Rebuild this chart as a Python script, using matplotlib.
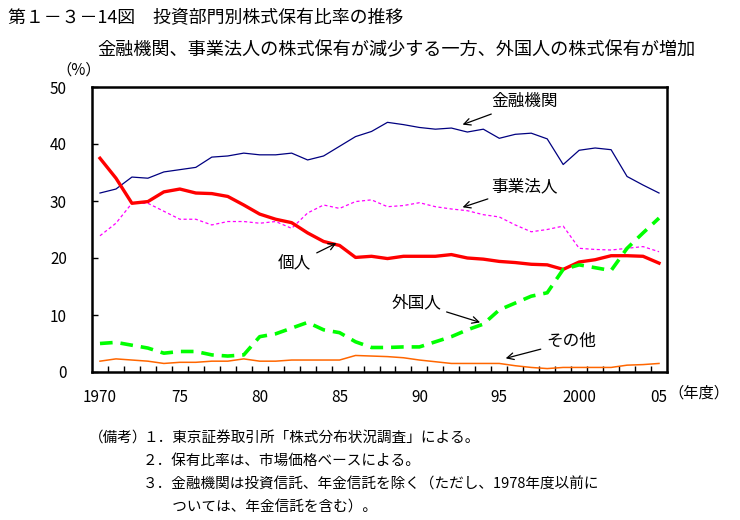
import numpy as np
import matplotlib
matplotlib.use("Agg")
import matplotlib.pyplot as plt

plt.rcParams['font.family'] = ['Noto Sans CJK JP', 'DejaVu Sans']

# Data, fiscal years 1970-2005
years = list(range(1970, 2006))
financial = [31.4, 32.1, 34.2, 34.0, 35.1, 35.5, 35.9, 37.7, 37.9, 38.4,
             38.1, 38.1, 38.4, 37.2, 37.9, 39.6, 41.3, 42.2, 43.8, 43.4,
             42.9, 42.6, 42.8, 42.1, 42.6, 41.0, 41.7, 41.9, 40.9, 36.4,
             38.9, 39.3, 39.0, 34.3, 32.8, 31.4]
business = [23.9, 26.1, 29.6, 29.6, 28.2, 26.8, 26.8, 25.8, 26.4, 26.4,
            26.1, 26.4, 25.2, 27.9, 29.3, 28.7, 29.9, 30.2, 29.0, 29.2,
            29.7, 29.0, 28.6, 28.3, 27.6, 27.2, 25.8, 24.6, 25.0, 25.6,
            21.7, 21.5, 21.4, 21.7, 22.0, 21.1]
individual = [37.5, 34.0, 29.6, 29.9, 31.6, 32.1, 31.4, 31.3, 30.8, 29.3,
              27.7, 26.8, 26.2, 24.4, 22.9, 22.2, 20.1, 20.3, 19.9, 20.3,
              20.3, 20.3, 20.6, 20.0, 19.8, 19.4, 19.2, 18.9, 18.8, 18.0,
              19.3, 19.7, 20.4, 20.4, 20.3, 19.1]
foreign = [5.0, 5.2, 4.7, 4.2, 3.3, 3.6, 3.6, 3.0, 2.8, 3.0,
           6.2, 6.7, 7.7, 8.7, 7.4, 6.9, 5.3, 4.3, 4.3, 4.4,
           4.4, 5.3, 6.2, 7.4, 8.4, 10.9, 12.1, 13.3, 13.9, 18.0,
           18.8, 18.3, 17.8, 21.7, 24.4, 27.0]
others = [1.9, 2.3, 2.1, 1.9, 1.5, 1.7, 1.7, 1.9, 1.9, 2.3,
          1.9, 1.9, 2.1, 2.1, 2.1, 2.1, 2.9, 2.8, 2.7, 2.5,
          2.1, 1.8, 1.5, 1.5, 1.5, 1.5, 1.1, 0.8, 0.6, 0.8,
          0.8, 0.8, 0.8, 1.2, 1.3, 1.5]

xtick_years = [1970, 1975, 1980, 1985, 1990, 1995, 2000, 2005]
xtick_labels = ['1970', '75', '80', '85', '90', '95', '2000', '05']

fig = plt.figure(figsize=(7.4, 5.2), dpi=100)
ax = fig.add_axes([92 / 740, 1 - 372 / 520, 575 / 740, 285 / 520])

ax.plot(years, financial, color='#000080', lw=0.9)
ax.plot(years, business, color='#FF00FF', lw=0.9, dashes=(2.5, 2))
ax.plot(years, individual, color='#FF0000', lw=2.4)
ax.plot(years, foreign, color='#00FF00', lw=2.6, dashes=(3.5, 2.2))
ax.plot(years, others, color='#FF6600', lw=1.1)

ax.set_xlim(1969.5, 2005.5)
ax.set_ylim(0, 50)
ax.set_yticks(range(0, 51, 10))
ax.set_xticks(xtick_years)
ax.set_xticklabels(xtick_labels)
ax.set_xticks(np.arange(1970.5, 2005, 1), minor=True)
ax.tick_params(axis='x', which='major', length=0, pad=12, labelsize=11)
ax.tick_params(axis='x', which='minor', direction='in', length=4, width=1)
ax.tick_params(axis='y', direction='in', length=4, width=1, pad=18, labelsize=11)
for s in ax.spines.values():
    s.set_linewidth(1.8)
    s.set_color('black')

arrow = dict(arrowstyle='->', color='black', lw=0.9, shrinkA=2, shrinkB=0)
ax.annotate('金融機関', xy=(1992.7, 43.4), xytext=(1994.5, 47.4),
            fontsize=12, va='center', ha='left', arrowprops=arrow)
ax.annotate('事業法人', xy=(1992.7, 28.9), xytext=(1994.5, 32.5),
            fontsize=12, va='center', ha='left', arrowprops=arrow)
ax.annotate('個人', xy=(1984.8, 22.6), xytext=(1982.2, 19.0),
            fontsize=12, va='center', ha='center', arrowprops=arrow)
ax.annotate('外国人', xy=(1993.8, 8.7), xytext=(1989.8, 12.2),
            fontsize=12, va='center', ha='center', arrowprops=arrow)
ax.annotate('その他', xy=(1995.4, 2.4), xytext=(1999.5, 5.4),
            fontsize=12, va='center', ha='center', arrowprops=arrow)

fig.text(8 / 740, 1 - 18 / 520, '第１－３－14図　投資部門別株式保有比率の推移',
         fontsize=12.9, va='center', ha='left')
fig.text(97 / 740, 1 - 50 / 520,
         '金融機関、事業法人の株式保有が減少する一方、外国人の株式保有が増加',
         fontsize=13.1, va='center', ha='left')
fig.text(56 / 740, 1 - 70 / 520, '（%）', fontsize=11, va='center', ha='left')
fig.text(668 / 740, 1 - 393 / 520, '（年度）', fontsize=11, va='center', ha='left')

fig.text(89 / 740, 1 - 438 / 520, '（備考）', fontsize=10.5, va='center', ha='left')
notes = ['１．東京証券取引所「株式分布状況調査」による。',
         '２．保有比率は、市場価格ベースによる。',
         '３．金融機関は投資信託、年金信託を除く（ただし、1978年度以前に',
         '　　ついては、年金信託を含む）。']
for i, line in enumerate(notes):
    fig.text(143 / 740, 1 - (438 + 23.3 * i) / 520, line,
             fontsize=10.5, va='center', ha='left')

fig.savefig('out.png', dpi=100)
